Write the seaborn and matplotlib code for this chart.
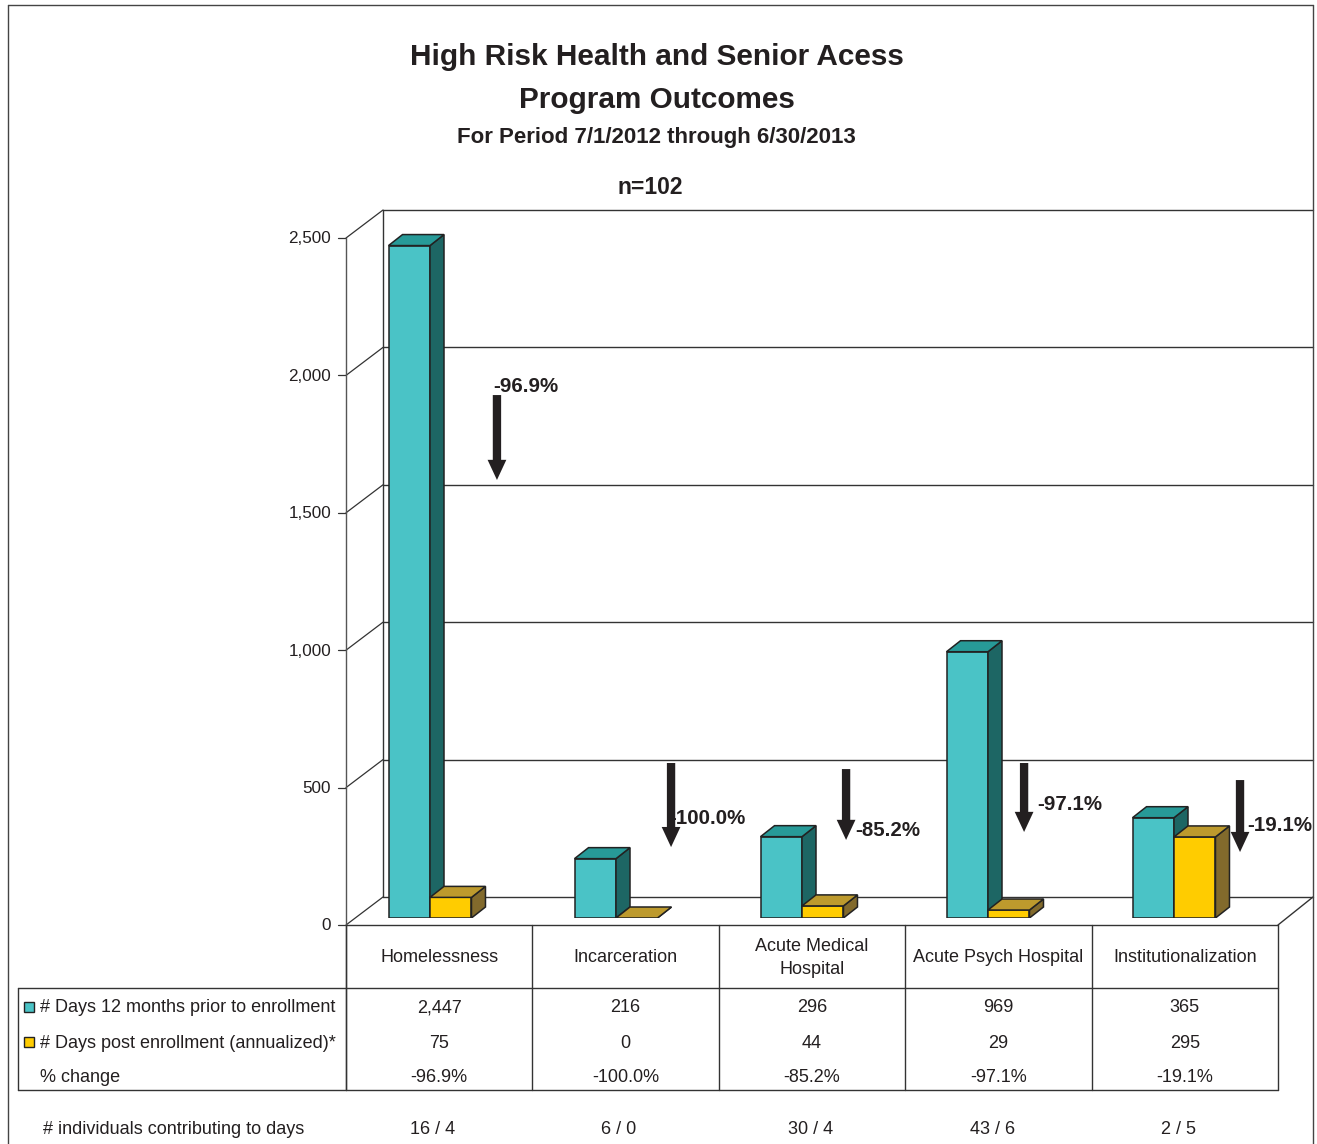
import numpy as np
import pandas as pd
import matplotlib
matplotlib.use("Agg")
import matplotlib.pyplot as plt
from matplotlib.patches import Polygon, Rectangle
from matplotlib.colors import to_rgb
import seaborn as sns

# ---- data ----
categories = ["Homelessness", "Incarceration", "Acute Medical\nHospital",
              "Acute Psych Hospital", "Institutionalization"]
series = ["# Days 12 months prior to enrollment",
          "# Days post enrollment (annualized)*"]
days_prior = [2447, 216, 296, 969, 365]
days_post = [75, 0, 44, 29, 295]
pct_change = [-96.9, -100.0, -85.2, -97.1, -19.1]
individuals = ["16 / 4", "6 / 0", "30 / 4", "43 / 6", "2 / 5"]
y_ticks = [0, 500, 1000, 1500, 2000, 2500]

# ---- arrow callout placement (x offset from group centre, y in days) ----
arrow_dx = [0.36, 0.296, 0.237, 0.194, 0.355]
arrow_top = [1903, 564, 542, 564, 502]
arrow_tip = [1594, 258, 284, 313, 240]
label_dx_px = [-4, -2, 9, 13, 7]
label_y = [1935, 362, 318, 412, 336]
indiv_dx_px = [-7, -7, -1, -6, -6]

# ---- style ----
TEAL, TEAL_SIDE, TEAL_TOP = "#4AC3C6", "#1D6664", "#279A98"
GOLD, GOLD_SIDE, GOLD_TOP = "#FFCC00", "#826A2C", "#BD9A2D"
EDGE = "#222222"
INK = "#231F20"
LINE = "#333333"
DY = 2  # nudge so text centres sit on the optical midline

sns.set_style("white")
plt.rcParams["font.family"] = ["Liberation Sans", "DejaVu Sans"]

W, H = 1317, 1144
fig = plt.figure(figsize=(W / 100, H / 100), dpi=100)
fig.patch.set_facecolor("white")

# pixel-space overlay for frame, walls, titles and data table
bg = fig.add_axes([0, 0, 1, 1], zorder=0)
bg.set_xlim(0, W)
bg.set_ylim(H, 0)
bg.axis("off")

# bar plane axes
ax = fig.add_axes([337 / W, (H - 918) / H, 930 / W, 687 / H], zorder=1)
ax.patch.set_alpha(0)

df = pd.DataFrame({
    "category": categories * 2,
    "series": [series[0]] * len(categories) + [series[1]] * len(categories),
    "days": days_prior + days_post,
})
sns.barplot(data=df, x="category", y="days", hue="series", hue_order=series,
            palette=[TEAL, GOLD], width=0.446, errorbar=None, legend=False,
            saturation=1, edgecolor=EDGE, linewidth=1.1, ax=ax)
ax.set_xlim(-0.5, len(categories) - 0.5)
ax.set_ylim(0, 2500)
ax.axis("off")

# pixels per data unit on the bar plane
o = ax.transData.transform((0, 0))
ppx = ax.transData.transform((1, 0))[0] - o[0]
ppy = ax.transData.transform((0, 1))[1] - o[1]

# 3D depth faces for each bar
DEPTH_X, DEPTH_Y = 14, 11
ddx, ddy = DEPTH_X / ppx, DEPTH_Y / ppy
for p in list(ax.patches):
    x0, w, h = p.get_x(), p.get_width(), p.get_height()
    is_teal = np.allclose(p.get_facecolor()[:3], to_rgb(TEAL), atol=0.03)
    side_c, top_c = (TEAL_SIDE, TEAL_TOP) if is_teal else (GOLD_SIDE, GOLD_TOP)
    z = 2.0 if is_teal else 2.1
    p.set_zorder(z)
    p.set_joinstyle("miter")
    side = Polygon([(x0 + w, 0), (x0 + w + ddx, ddy), (x0 + w + ddx, h + ddy), (x0 + w, h)],
                   closed=True, fc=side_c, ec=EDGE, lw=1.1, zorder=z + 0.01, joinstyle="miter")
    top = Polygon([(x0, h), (x0 + w, h), (x0 + w + ddx, h + ddy), (x0 + ddx, h + ddy)],
                  closed=True, fc=top_c, ec=EDGE, lw=1.1, zorder=z + 0.02, joinstyle="miter")
    ax.add_patch(side)
    ax.add_patch(top)

# change arrows and labels
for i, pc in enumerate(pct_change):
    xa = i + arrow_dx[i]
    ax.text(xa + label_dx_px[i] / ppx, label_y[i], f"{pc:.1f}%", ha="left", va="center",
            fontsize=14.8, fontweight="bold", color=INK, zorder=5)
    ax.annotate("", xy=(xa, arrow_tip[i]), xytext=(xa, arrow_top[i]),
                arrowprops=dict(arrowstyle="simple,head_length=1.45,head_width=1.35,tail_width=0.6",
                                mutation_scale=10, fc=INK, ec=INK, lw=0,
                                shrinkA=0, shrinkB=0), zorder=6)


def plane_y(v):
    return H - ax.transData.transform((0, v))[1]


FRONT = (-9, 7)
BACK = (28, -21)
front_left = 346
back_left = front_left + (BACK[0] - FRONT[0])
col_w = 186.4
table_right = front_left + col_w * len(categories)
back_right = 1313

# back wall, gridlines and perspective edges
for v in y_ticks:
    yb = plane_y(v) + BACK[1]
    yf = plane_y(v) + FRONT[1]
    bg.plot([back_left, back_right], [yb, yb], color=LINE, lw=1.0)
    bg.plot([front_left, back_left], [yf, yb], color=LINE, lw=0.9)
    bg.plot([front_left - 8, front_left], [yf, yf], color=LINE, lw=0.9)
    bg.text(front_left - 15, yf + 1, f"{v:,}", ha="right", va="center",
            fontsize=12.3, color=INK)
bg.plot([back_left, back_left], [plane_y(0) + BACK[1], plane_y(2500) + BACK[1]],
        color=LINE, lw=1.0)
y0f = plane_y(0) + FRONT[1]
y0b = plane_y(0) + BACK[1]
bg.plot([front_left, front_left], [plane_y(2500) + FRONT[1], 1090], color="#555555", lw=1.0)
bg.plot([front_left, table_right], [y0f, y0f], color=LINE, lw=1.0)
bg.plot([table_right, back_right], [y0f, y0b], color=LINE, lw=1.0)

# outer frame
bg.plot([8, 8], [5, H], color="#444444", lw=1.0)
bg.plot([8, 1313], [5, 5], color="#444444", lw=1.0)
bg.plot([1313, 1313], [5, H], color="#444444", lw=1.0)

# titles
bg.text(657, 55 + DY, "High Risk Health and Senior Acess", ha="center", va="center",
        fontsize=21.4, fontweight="bold", color=INK)
bg.text(657, 98 + DY, "Program Outcomes", ha="center", va="center",
        fontsize=21.4, fontweight="bold", color=INK)
bg.text(656, 136 + DY, "For Period 7/1/2012 through 6/30/2013", ha="center", va="center",
        fontsize=16, fontweight="bold", color=INK)
bg.text(650, 186 + DY, "n=102", ha="center", va="center",
        fontsize=16.5, fontweight="bold", color=INK)

# data table
row_top, row_bot = 988, 1090
for k in range(len(categories) + 1):
    xk = front_left + k * col_w
    bg.plot([xk, xk], [y0f, row_bot], color=LINE, lw=1.0)
bg.plot([18, table_right], [row_top, row_top], color=LINE, lw=1.0)
bg.plot([18, table_right], [row_bot, row_bot], color=LINE, lw=1.0)
bg.plot([18, 18], [row_top, row_bot], color=LINE, lw=1.0)

row_y = [1006 + DY, 1041 + DY, 1075 + DY]
for i, cat in enumerate(categories):
    cx = front_left + (i + 0.5) * col_w
    bg.text(cx, 956 + DY, cat, ha="center", va="center", fontsize=13, color=INK,
            linespacing=1.45)
    bg.text(cx, row_y[0], f"{days_prior[i]:,}", ha="center", va="center", fontsize=13, color=INK)
    bg.text(cx, row_y[1], f"{days_post[i]:,}", ha="center", va="center", fontsize=13, color=INK)
    bg.text(cx, row_y[2], f"{pct_change[i]:.1f}%", ha="center", va="center", fontsize=13, color=INK)
    bg.text(cx + indiv_dx_px[i], 1128 + DY, individuals[i], ha="center", va="center",
            fontsize=13, color=INK)

for r, (name, c) in enumerate(zip(series, [TEAL, GOLD])):
    bg.add_patch(Rectangle((24, row_y[r] - 6), 10, 10, fc=c, ec=EDGE, lw=1.0))
    bg.text(40, row_y[r], name, ha="left", va="center", fontsize=13, color=INK)
bg.text(40, row_y[2], "% change", ha="left", va="center", fontsize=13, color=INK)
bg.text(43, 1128 + DY, "# individuals contributing to days", ha="left", va="center",
        fontsize=13, color=INK)

fig.savefig("out.png", dpi=100, facecolor="white")
